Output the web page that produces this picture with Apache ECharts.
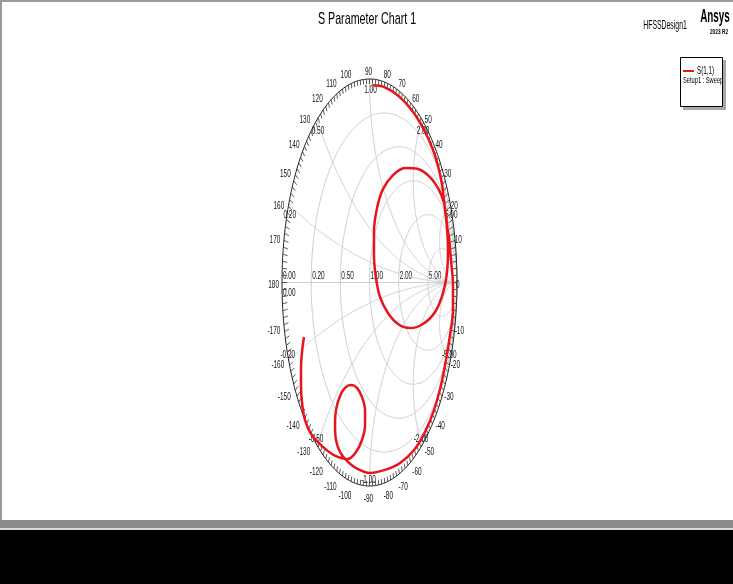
<!DOCTYPE html>
<html>
<head>
<meta charset="utf-8">
<script src="https://cdn.jsdelivr.net/npm/echarts@6/dist/echarts.min.js"></script>
<style>
html,body{margin:0;padding:0;background:#fff;}
#chart{width:733px;height:584px;}
</style>
</head>
<body>
<div id="chart"></div>
<script>
const gammaRe = [
  0.034, 0.169, 0.333, 0.488, 0.627, 0.725, 0.785, 0.830, 0.849, 0.865,
  0.886, 0.897, 0.886, 0.840, 0.749, 0.611, 0.463, 0.326, 0.211, 0.120,
  0.074, 0.051, 0.051, 0.086, 0.154, 0.269, 0.406, 0.554, 0.691, 0.794,
  0.851, 0.874, 0.892,
  0.909, 0.931, 0.954, 0.954, 0.920, 0.874, 0.817, 0.737, 0.634, 0.509,
  0.349, 0.177, 0.006, -0.154, -0.269,
  -0.337, -0.383, -0.394, -0.383, -0.337, -0.280, -0.211, -0.143, -0.086, -0.051,
  -0.051, -0.086, -0.154, -0.246,
  -0.406, -0.554, -0.669, -0.737, -0.771, -0.783, -0.783, -0.771, -0.749
];
const gammaIm = [
  0.969, 0.960, 0.916, 0.844, 0.747, 0.652, 0.570, 0.479, 0.414, 0.350,
  0.268, 0.160, 0.052, -0.052, -0.145, -0.204, -0.224, -0.204, -0.150, -0.071,
  0.022, 0.135, 0.248, 0.366, 0.459, 0.528, 0.563, 0.558, 0.518, 0.455,
  0.391, 0.332, 0.265,
  0.219, 0.111, -0.012, -0.135, -0.258, -0.381, -0.504, -0.627, -0.735, -0.823,
  -0.887, -0.921, -0.936, -0.912, -0.872,
  -0.833, -0.774, -0.700, -0.627, -0.558, -0.518, -0.504, -0.518, -0.563, -0.627,
  -0.700, -0.774, -0.833, -0.867,
  -0.848, -0.799, -0.744, -0.676, -0.592, -0.504, -0.420, -0.342, -0.268
];

// grid values and their labels
const angleLabels = [-170, -160, -150, -140, -130, -120, -110, -100, -90, -80, -70, -60, -50, -40, -30, -20, -10,
  0, 10, 20, 30, 40, 50, 60, 70, 80, 90, 100, 110, 120, 130, 140, 150, 160, 170, 180];
const resistanceValues = [0.2, 0.5, 1, 2, 5];
const resistanceLabels = ['0.20', '0.50', '1.00', '2.00', '5.00'];
const reactanceValues = [0.2, 0.5, 1, 2, 5, -0.2, -0.5, -1, -2, -5];
const reactanceLabels = ['0.20', '0.50', '1.00', '2.00', '5.00', '-0.20', '-0.50', '-1.00', '-2.00', '-5.00'];

const FONT = '"Liberation Sans", Arial, sans-serif';
const SQ = 0.56;          // narrow text, as in the HFSS plot
const GRID = '#cfcfcf';
const TRACE = '#e8141c';

var chart = echarts.init(document.getElementById('chart'));

function smithGrid(params, api) {
  var kids = [];
  function poly(pts, color, w) {
    kids.push({type: 'polyline', silent: true, shape: {points: pts}, style: {stroke: color, lineWidth: w, fill: null}});
  }
  function text(x, y, s, align, va, size) {
    kids.push({type: 'text', silent: true, x: x, y: y, scaleX: SQ,
      style: {text: s, x: 0, y: 0, align: align, verticalAlign: va, fontSize: size || 11.5, fontFamily: FONT, fill: '#111'}});
  }

  // real axis
  poly([api.coord([-1, 0]), api.coord([1, 0])], GRID, 1);

  // constant resistance circles
  resistanceValues.forEach(function (r, k) {
    var c = r / (1 + r), rad = 1 / (1 + r), pts = [];
    for (var i = 0; i <= 240; i++) {
      var a = i / 240 * Math.PI * 2;
      pts.push(api.coord([c + rad * Math.cos(a), rad * Math.sin(a)]));
    }
    poly(pts, GRID, 1);
    var p = api.coord([c - rad, 0]);
    text(p[0] + 1, p[1] - 1, resistanceLabels[k], 'left', 'bottom');
  });

  // constant reactance arcs
  reactanceValues.forEach(function (x, k) {
    var cy = 1 / x, R = 1 / Math.abs(x);
    var g0 = [(x * x - 1) / (1 + x * x), 2 * x / (1 + x * x)];
    var a0 = x > 0 ? -Math.PI / 2 : Math.PI / 2;
    var a1 = Math.atan2(g0[1] - cy, g0[0] - 1);
    var d = a1 - a0;
    while (d > Math.PI) d -= 2 * Math.PI;
    while (d < -Math.PI) d += 2 * Math.PI;
    var pts = [];
    for (var i = 0; i <= 200; i++) {
      var a = a0 + d * i / 200;
      pts.push(api.coord([1 + R * Math.cos(a), cy + R * Math.sin(a)]));
    }
    poly(pts, GRID, 1);
    var p = api.coord(g0);
    if (x > 0) text(p[0] + 1, p[1] + 11, reactanceLabels[k], 'center', 'middle');
    else text(p[0] - 1, p[1] - 6, reactanceLabels[k], 'center', 'middle');
  });

  // zero labels at the left end of the real axis
  var l = api.coord([-1, 0]);
  text(l[0] + 1, l[1] - 1, '0.00', 'left', 'bottom');
  text(l[0] + 1, l[1] + 4, '0.00', 'left', 'top');

  // outer circle
  var outer = [];
  for (var i = 0; i <= 360; i++) {
    var a = i / 180 * Math.PI;
    outer.push(api.coord([Math.cos(a), Math.sin(a)]));
  }
  poly(outer, '#222', 1);

  // angle ticks every 2 degrees, pointing inward
  for (var deg = -178; deg <= 180; deg += 2) {
    var t = deg / 180 * Math.PI;
    var P = api.coord([Math.cos(t), Math.sin(t)]);
    var Q = api.coord([0.8 * Math.cos(t), 0.8 * Math.sin(t)]);
    var dx = Q[0] - P[0], dy = Q[1] - P[1], n = Math.sqrt(dx * dx + dy * dy);
    var len = 5;
    kids.push({type: 'line', silent: true,
      shape: {x1: P[0], y1: P[1], x2: P[0] + dx / n * len, y2: P[1] + dy / n * len},
      style: {stroke: '#333', lineWidth: 0.8}});
  }

  // angle labels
  angleLabels.forEach(function (deg) {
    var t = deg / 180 * Math.PI, c = Math.cos(t), s = Math.sin(t);
    var P = api.coord([c, s]);
    var align, x, y;
    if (Math.abs(c) < 0.01) { align = 'center'; x = P[0] - 1; }
    else if (c > 0) { align = 'left'; x = P[0] - 1; }
    else { align = 'right'; x = P[0] - 3; }
    if (Math.abs(s) < 0.01) y = P[1] + 2.5;
    else if (s > 0) y = P[1] - 7;
    else y = P[1] + 13;
    text(x, y, String(deg), align, 'middle');
  });

  return {type: 'group', children: kids};
}

var trace = gammaRe.map(function (v, i) { return [v, gammaIm[i]]; });

var option = {
  animation: false,
  backgroundColor: '#fff',
  grid: {left: 282, top: 79, width: 175, height: 407},
  xAxis: {type: 'value', min: -1, max: 1, show: false},
  yAxis: {type: 'value', min: -1, max: 1, show: false},
  graphic: [
    {type: 'rect', shape: {x: 0, y: 0, width: 733, height: 2}, style: {fill: '#9a9a9a'}},
    {type: 'rect', shape: {x: 0, y: 0, width: 2, height: 521}, style: {fill: '#9a9a9a'}},
    {type: 'rect', shape: {x: 0, y: 520, width: 733, height: 8}, style: {fill: '#8a8a8a'}},
    {type: 'rect', shape: {x: 0, y: 528, width: 733, height: 2}, style: {fill: '#d8d8d8'}},
    {type: 'rect', shape: {x: 0, y: 530, width: 733, height: 54}, style: {fill: '#000'}},
    {type: 'text', x: 367, y: 19.5, scaleX: 0.63,
      style: {text: 'S Parameter Chart 1', x: 0, y: 0, align: 'center', verticalAlign: 'middle', fontSize: 17, fontFamily: FONT, fill: '#000'}},
    {type: 'text', x: 665, y: 26, scaleX: 0.55,
      style: {text: 'HFSSDesign1', x: 0, y: 0, align: 'center', verticalAlign: 'middle', fontSize: 12.5, fontFamily: FONT, fill: '#000'}},
    {type: 'text', x: 715, y: 17.5, scaleX: 0.55,
      style: {text: 'Ansys', x: 0, y: 0, align: 'center', verticalAlign: 'middle', fontSize: 18, fontWeight: 'bold', fontFamily: FONT, fill: '#000'}},
    {type: 'text', x: 719, y: 31.5, scaleX: 0.6,
      style: {text: '2023 R2', x: 0, y: 0, align: 'center', verticalAlign: 'middle', fontSize: 8, fontWeight: 'bold', fontFamily: FONT, fill: '#000'}},
    // legend box
    {type: 'rect', shape: {x: 683, y: 60, width: 43, height: 50}, style: {fill: '#a8a8a8'}},
    {type: 'rect', shape: {x: 680.5, y: 57.5, width: 42, height: 49}, style: {fill: '#fff', stroke: '#000', lineWidth: 1}},
    {type: 'line', shape: {x1: 683, y1: 71, x2: 694, y2: 71}, style: {stroke: TRACE, lineWidth: 2}},
    {type: 'text', x: 697, y: 71, scaleX: 0.6,
      style: {text: 'S(1,1)', x: 0, y: 0, align: 'left', verticalAlign: 'middle', fontSize: 10.5, fontFamily: FONT, fill: '#000'}},
    {type: 'text', x: 683, y: 80.5, scaleX: 0.6,
      style: {text: 'Setup1 : Sweep', x: 0, y: 0, align: 'left', verticalAlign: 'middle', fontSize: 9.5, fontFamily: FONT, fill: '#000'}}
  ],
  series: [
    {
      type: 'custom',
      silent: true,
      z: 1,
      data: [[0, 0]],
      renderItem: smithGrid
    },
    {
      name: 'S(1,1)',
      type: 'line',
      z: 5,
      data: trace,
      smooth: 0.35,
      showSymbol: false,
      lineStyle: {color: TRACE, width: 2.5}
    }
  ]
};
chart.setOption(option);
</script>
</body>
</html>
